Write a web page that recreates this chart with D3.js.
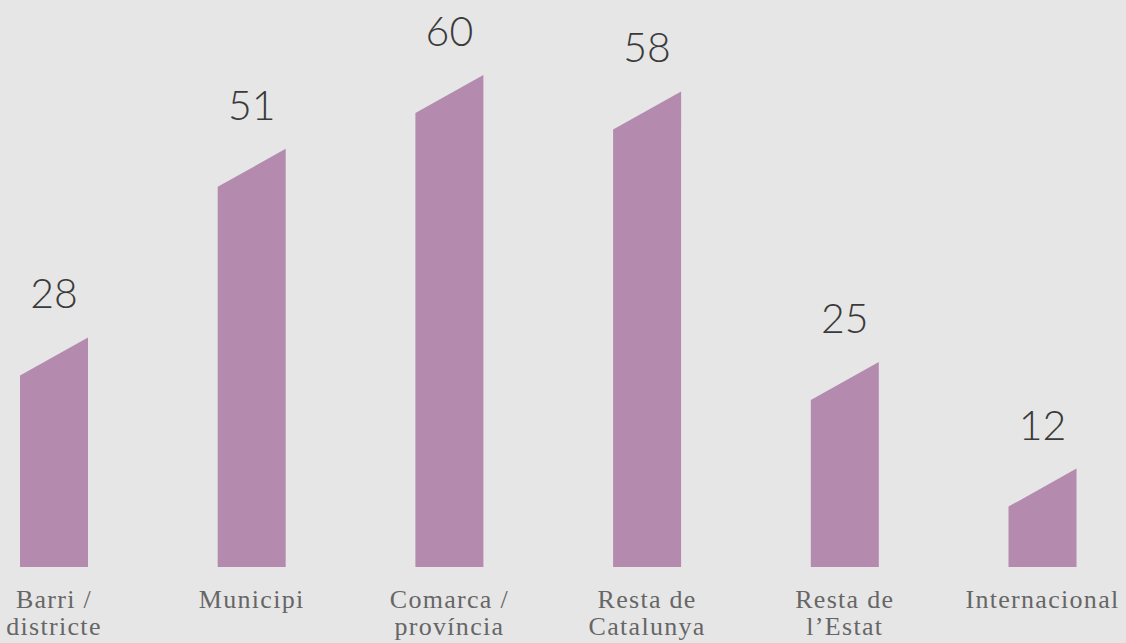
<!DOCTYPE html>
<html><head><meta charset="utf-8">
<script src="https://cdn.jsdelivr.net/npm/d3@7"></script>
<style>
html,body{margin:0;padding:0;background:#e6e6e6;}
svg{display:block;}
</style></head>
<body><svg id="c" width="1126" height="643"></svg>
<script>
const categories = [["Barri /","districte"],["Municipi"],["Comarca /","província"],["Resta de","Catalunya"],["Resta de","l’Estat"],["Internacional"]];
const values = [28, 51, 60, 58, 25, 12];

const W = 1126, H = 643;
const svg = d3.select("#c");
svg.append("rect").attr("width",W).attr("height",H).attr("fill","#e6e6e6");

const x = d3.scalePoint().domain(d3.range(values.length)).range([54, 1042.5]);
const y = d3.scaleLinear().domain([0,60]).range([567,75]);
const slant = 38, bw = 68;

const g = svg.append("g");
g.selectAll("path.bar").data(values).join("path")
  .attr("class","bar")
  .attr("fill","#b48aae")
  .attr("d",(d,i)=>{
    const x0 = x(i)-bw/2, x1 = x0+bw;
    return `M${x0},${y(0)}L${x0},${y(d)+slant}L${x1},${y(d)}L${x1},${y(0)}Z`;
  });

g.selectAll("text.val").data(values).join("text")
  .attr("class","val")
  .attr("x",(d,i)=>x(i))
  .attr("y",d=>y(d)-29)
  .attr("text-anchor","middle")
  .attr("font-family","Lato, 'Open Sans', sans-serif")
  .attr("font-weight",300)
  .attr("font-size",41)
  .attr("fill","#3a3a3a")
  .text(d=>d);

const lab = g.selectAll("text.cat").data(categories).join("text")
  .attr("class","cat")
  .attr("text-anchor","middle")
  .attr("font-family","'Liberation Serif', 'DejaVu Serif', serif")
  .attr("font-size",26)
  .attr("letter-spacing",1.3)
  .attr("fill","#666666");
lab.each(function(lines,i){
  const t = d3.select(this);
  lines.forEach((l,k)=>{
    t.append("tspan").attr("x",x(i)).attr("y",608+k*27).text(l);
  });
});
</script></body></html>
